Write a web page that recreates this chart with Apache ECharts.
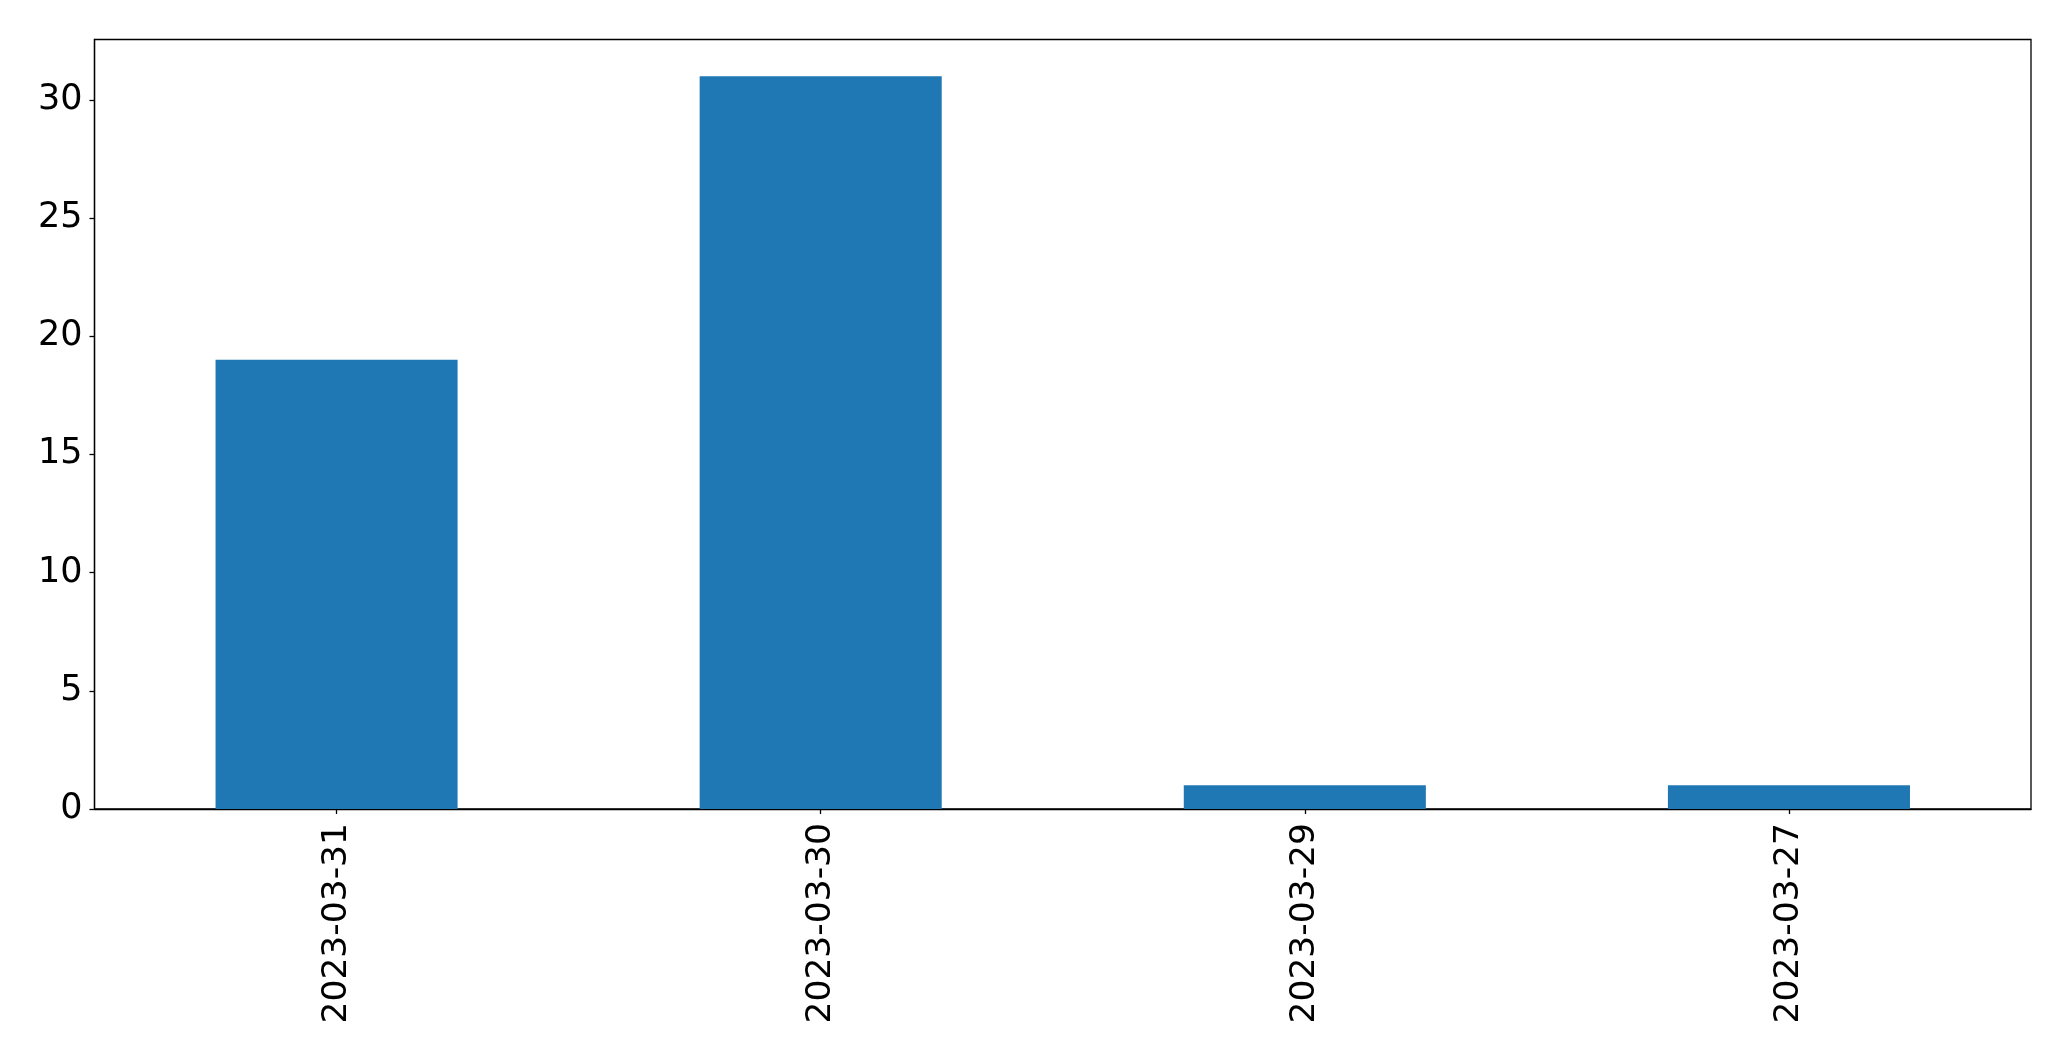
<!DOCTYPE html>
<html>
<head>
<meta charset="utf-8">
<script src="https://cdn.jsdelivr.net/npm/echarts@6/dist/echarts.min.js"></script>
<style>
html,body{margin:0;padding:0;background:#fff;}
#chart{width:2071px;height:1061px;}
</style>
</head>
<body>
<div id="chart"></div>
<script>
const categories = ['2023-03-31', '2023-03-30', '2023-03-29', '2023-03-27'];
const values = [19, 31, 1, 1];
const yTicks = [0, 5, 10, 15, 20, 25, 30];

const chart = echarts.init(document.getElementById('chart'), null, {renderer: 'canvas'});
const font = 'DejaVu Sans';
chart.setOption({
  animation: false,
  backgroundColor: '#ffffff',
  grid: {
    left: 94.5, right: 40, top: 39.5, bottom: 252,
    show: true, borderColor: '#000', borderWidth: 1.3, backgroundColor: 'transparent'
  },
  xAxis: {
    type: 'category',
    data: categories,
    axisLine: {show: true, lineStyle: {color: '#000', width: 1.3}},
    axisTick: {show: true, alignWithLabel: true, length: 5, lineStyle: {color: '#000', width: 1.3}},
    axisLabel: {rotate: 90, fontSize: 34.5, fontFamily: font, color: '#000', margin: 14},
    splitLine: {show: false}
  },
  yAxis: {
    type: 'value',
    min: 0,
    max: 32.55,
    interval: 5,
    axisLine: {show: true, lineStyle: {color: '#000', width: 1.3}},
    axisTick: {show: true, length: 5, lineStyle: {color: '#000', width: 1.3}},
    axisLabel: {
      fontSize: 35, fontFamily: font, color: '#000', margin: 12, showMaxLabel: false,
      formatter: v => (yTicks.indexOf(v) >= 0 ? String(v) : '')
    },
    splitLine: {show: false}
  },
  series: [{
    type: 'bar',
    data: values,
    barWidth: '50%',
    itemStyle: {color: '#1f77b4'}
  }]
});
</script>
</body>
</html>
